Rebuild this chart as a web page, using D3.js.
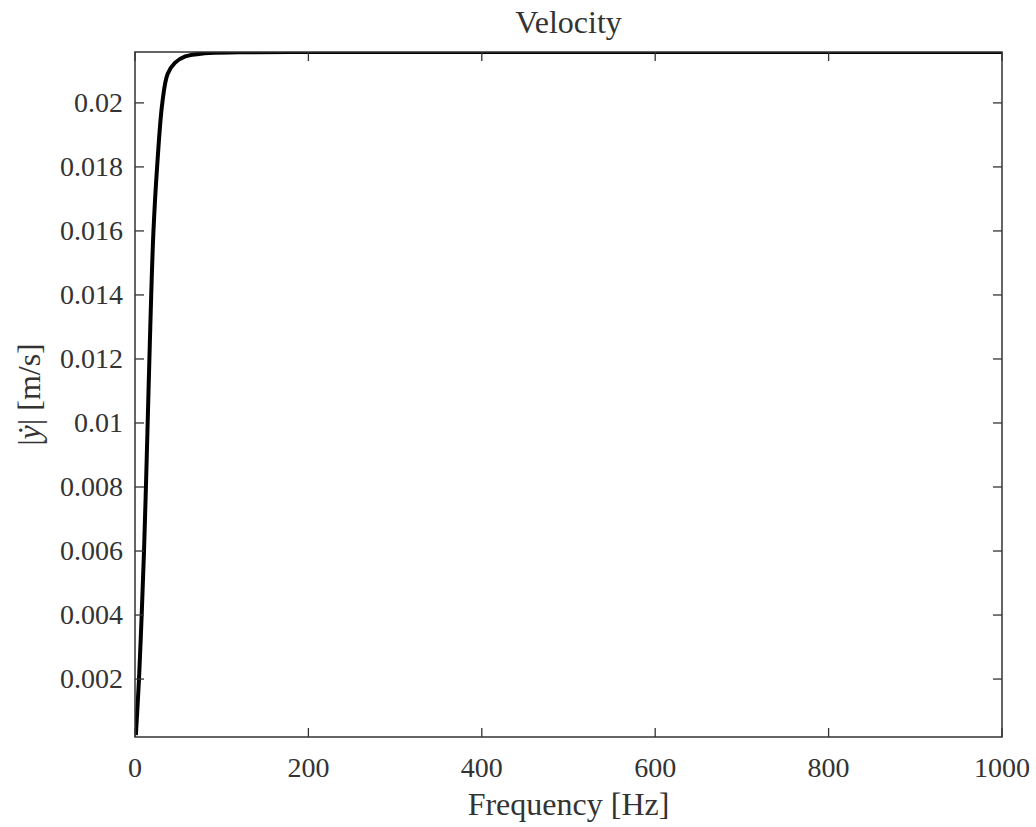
<!DOCTYPE html>
<html>
<head>
<meta charset="utf-8">
<script src="https://cdn.jsdelivr.net/npm/d3@7"></script>
<style>
  html, body { margin: 0; padding: 0; background: #fff; }
  svg { display: block; }
  .lbl { font-family: "Liberation Serif", "DejaVu Serif", serif; fill: #333; }
</style>
</head>
<body>
<svg id="chart" width="1036" height="827"></svg>
<script>
// values
const freq = [1, 4.6, 7.7, 10.4, 12.6, 14.6, 16.6, 18.7, 21.3, 25.5, 31.5, 37.6, 46, 58, 80, 120, 200, 400, 1000];
const velocity = [0.00025, 0.002, 0.004, 0.006, 0.008, 0.010, 0.012, 0.014, 0.016, 0.018, 0.020, 0.0209, 0.02125, 0.02145, 0.02155, 0.02158, 0.02159, 0.02159, 0.02159];
const xTicks = [0, 200, 400, 600, 800, 1000];
const yTicks = [0.002, 0.004, 0.006, 0.008, 0.01, 0.012, 0.014, 0.016, 0.018, 0.02];
const xDomain = [0, 1000];
const yDomain = [0.00019, 0.02159];

const svg = d3.select("#chart");
const margin = { top: 52, right: 34, bottom: 90, left: 135 };
const W = 1036, H = 827;
const innerW = W - margin.left - margin.right;
const innerH = H - margin.top - margin.bottom;

const x = d3.scaleLinear().domain(xDomain).range([0, innerW]);
const y = d3.scaleLinear().domain(yDomain).range([innerH, 0]);

const g = svg.append("g").attr("transform", `translate(${margin.left},${margin.top})`);

g.append("clipPath").attr("id", "clip")
  .append("rect").attr("width", innerW).attr("height", innerH);

const line = d3.line()
  .x((d, i) => x(freq[i]))
  .y(d => y(d))
  .curve(d3.curveCatmullRom.alpha(0.5));

g.append("path")
  .datum(velocity)
  .attr("clip-path", "url(#clip)")
  .attr("fill", "none")
  .attr("stroke", "#000")
  .attr("stroke-width", 4)
  .attr("stroke-linejoin", "round")
  .attr("d", line);

// ticks inside on all four sides
const tickLen = 9;
const tickStyle = sel => sel.attr("stroke", "#333").attr("stroke-width", 1.3);

g.selectAll(".xt-b").data(xTicks).join("line")
  .attr("x1", d => x(d)).attr("x2", d => x(d))
  .attr("y1", innerH).attr("y2", innerH - tickLen).call(tickStyle);
g.selectAll(".xt-t").data(xTicks).join("line")
  .attr("x1", d => x(d)).attr("x2", d => x(d))
  .attr("y1", 0).attr("y2", tickLen).call(tickStyle);
g.selectAll(".yt-l").data(yTicks).join("line")
  .attr("x1", 0).attr("x2", tickLen)
  .attr("y1", d => y(d)).attr("y2", d => y(d)).call(tickStyle);
g.selectAll(".yt-r").data(yTicks).join("line")
  .attr("x1", innerW).attr("x2", innerW - tickLen)
  .attr("y1", d => y(d)).attr("y2", d => y(d)).call(tickStyle);

g.append("rect")
  .attr("width", innerW).attr("height", innerH)
  .attr("fill", "none").attr("stroke", "#333").attr("stroke-width", 1.5);

// tick labels
g.selectAll(".xl").data(xTicks).join("text")
  .attr("class", "lbl")
  .attr("x", d => x(d)).attr("y", innerH + 40)
  .attr("text-anchor", "middle")
  .attr("font-size", 28)
  .text(d => d);

g.selectAll(".yl").data(yTicks).join("text")
  .attr("class", "lbl")
  .attr("x", -12).attr("y", d => y(d) + 9)
  .attr("text-anchor", "end")
  .attr("font-size", 28)
  .text(d => String(+d.toFixed(3)));

// titles
svg.append("text").attr("class", "lbl")
  .attr("x", margin.left + innerW / 2).attr("y", 33)
  .attr("text-anchor", "middle").attr("font-size", 32)
  .text("Velocity");

svg.append("text").attr("class", "lbl")
  .attr("x", margin.left + innerW / 2).attr("y", 815)
  .attr("text-anchor", "middle").attr("font-size", 32)
  .text("Frequency [Hz]");

const yl = svg.append("text").attr("class", "lbl")
  .attr("transform", `translate(40,${margin.top + innerH / 2}) rotate(-90)`)
  .attr("text-anchor", "middle").attr("font-size", 32);
yl.append("tspan").text("|");
yl.append("tspan").attr("font-style", "italic").text("ẏ");
yl.append("tspan").text("| [m/s]");
</script>
</body>
</html>
